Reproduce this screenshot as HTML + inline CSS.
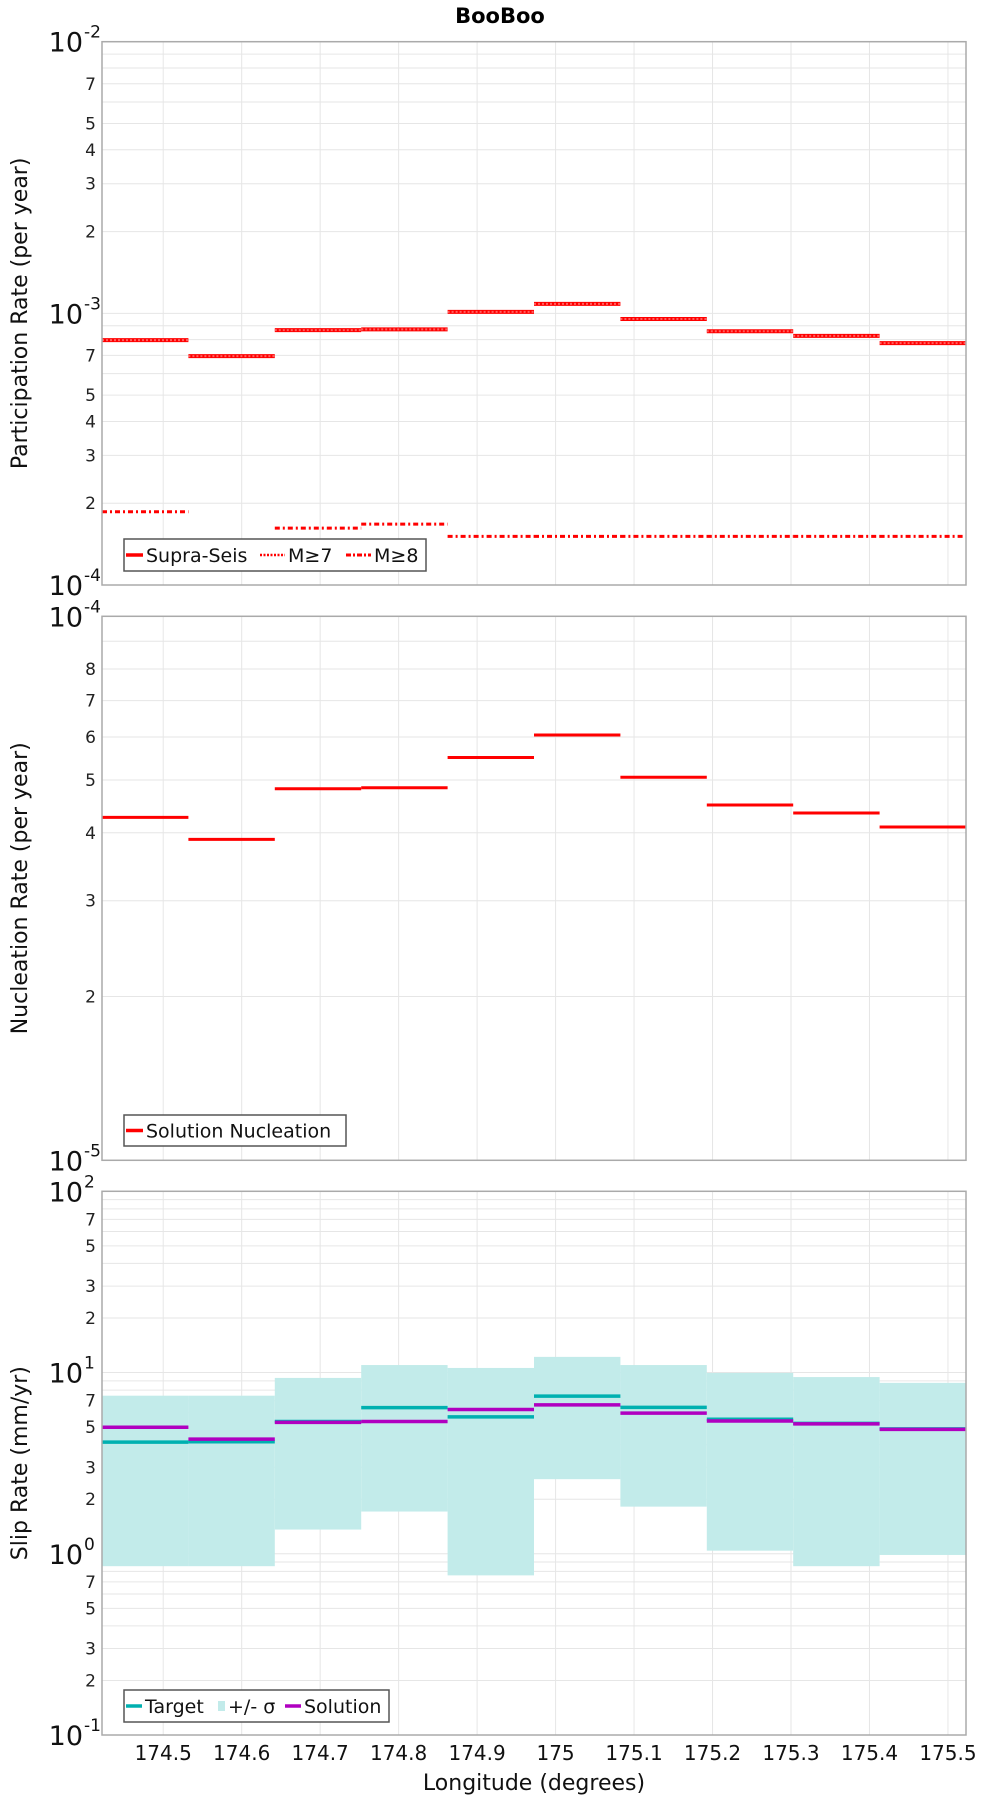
<!DOCTYPE html>
<html><head><meta charset="utf-8"><style>
html,body{margin:0;padding:0;background:#fff;}
svg{display:block;font-family:"DejaVu Sans","Liberation Sans",sans-serif;}
</style></head><body>
<svg id="chart" width="1000" height="1800" viewBox="0 0 1000 1800" xmlns="http://www.w3.org/2000/svg">
<text x="500" y="23" text-anchor="middle" font-size="21" font-weight="bold">BooBoo</text>
<g id="layer"></g>
</svg>
<script>
// ---- data ----
const binEdges = [174.422,174.5321,174.6422,174.7523,174.8624,174.9725,175.0826,175.1927,175.3028,175.4129,175.523];
const xTicks = [174.5,174.6,174.7,174.8,174.9,175,175.1,175.2,175.3,175.4,175.5];
const xTickLabels = ["174.5","174.6","174.7","174.8","174.9","175","175.1","175.2","175.3","175.4","175.5"];
const supraSeis = [7.97e-4,6.96e-4,8.67e-4,8.73e-4,1.013e-3,1.084e-3,9.53e-4,8.59e-4,8.26e-4,7.77e-4];
const m7 = [7.97e-4,6.96e-4,8.67e-4,8.73e-4,1.013e-3,1.084e-3,9.53e-4,8.59e-4,8.26e-4,7.77e-4];
const m8 = [1.86e-4,1.374e-4,1.62e-4,1.675e-4,1.51e-4,1.51e-4,1.51e-4,1.51e-4,1.51e-4,1.51e-4];
const nucleation = [4.27e-5,3.89e-5,4.82e-5,4.84e-5,5.5e-5,6.05e-5,5.06e-5,4.5e-5,4.35e-5,4.1e-5];
const slipTarget = [4.13,4.15,5.37,6.4,5.69,7.41,6.42,5.52,5.24,4.89];
const slipSolution = [4.99,4.29,5.31,5.37,6.25,6.63,5.97,5.40,5.21,4.86];
const slipUpper = [7.45,7.45,9.34,11.0,10.6,12.2,11.0,9.95,9.44,8.77];
const slipLower = [0.854,0.854,1.36,1.71,0.76,2.58,1.82,1.04,0.854,0.985];

const NS="http://www.w3.org/2000/svg";
const layer=document.getElementById('layer');
const X0=102,X1=966,LON0=174.422,LON1=175.523;
function xs(v){return X0+(v-LON0)/(LON1-LON0)*(X1-X0);}
function mk(tag,attrs,parent){const e=document.createElementNS(NS,tag);for(const k in attrs)e.setAttribute(k,attrs[k]);(parent||layer).appendChild(e);return e;}

const panels=[
 {top:41.7,bot:585,lo:-4,hi:-2,minorLabels:[2,3,4,5,7],title:"Participation Rate (per year)",name:"participation"},
 {top:616.3,bot:1160.3,lo:-5,hi:-4,minorLabels:[2,3,4,5,6,7,8],title:"Nucleation Rate (per year)",name:"nucleation"},
 {top:1191.3,bot:1735,lo:-1,hi:2,minorLabels:[2,3,5,7],title:"Slip Rate (mm/yr)",name:"slip"}
];
panels.forEach(p=>{p.ys=v=>p.bot-(Math.log10(v)-p.lo)/(p.hi-p.lo)*(p.bot-p.top);});

panels.forEach(p=>{
 const g=mk('g',{});
 
 
 for(let d=p.lo;d<p.hi;d++){for(let m=1;m<10;m++){const v=m*Math.pow(10,d);const y=p.ys(v);
  if(m>1||d>p.lo){const l=mk('line',{x1:X0,x2:X1,y1:y,y2:y,stroke:'#e6e6e6','stroke-width':1},g);
  }
  if(m>1&&p.minorLabels.includes(m)){const t=mk('text',{x:96,y:y+6,'text-anchor':'end','font-size':17,fill:'#222'},g);t.textContent=m;
  }
 }}
 xTicks.forEach(v=>{const l=mk('line',{x1:xs(v),x2:xs(v),y1:p.top,y2:p.bot,stroke:'#e6e6e6','stroke-width':1},g);
  });
 for(let d=p.lo;d<=p.hi;d++){const y=p.ys(Math.pow(10,d));
  const t=mk('text',{x:83,y:y+10,'text-anchor':'end','font-size':27,fill:'#111'},g);t.textContent='10';
  
  const s=mk('text',{x:84,y:y-4,'text-anchor':'start','font-size':17,fill:'#111'},g);s.textContent=String(d);
  }
 const at=mk('text',{transform:`translate(27,${(p.top+p.bot)/2}) rotate(-90)`,'text-anchor':'middle','font-size':22,fill:'#111'},g);
 at.textContent=p.title;
});

function steps(p,arr,attrs,name){arr.forEach((v,i)=>{const y=p.ys(v);
 const l=mk('line',Object.assign({x1:xs(binEdges[i]),x2:xs(binEdges[i+1]),y1:y,y2:y},attrs));
 });}

const P1=panels[0],P2=panels[1],P3=panels[2];
steps(P1,supraSeis,{stroke:'#ff0000','stroke-width':4},'supra-seis-segment');
steps(P1,m7,{stroke:'#ff6060','stroke-width':2,'stroke-dasharray':'2 2'},'m7-segment');
steps(P1,m8,{stroke:'#ff0000','stroke-width':3,'stroke-dasharray':'5 3 2 3'},'m8-segment');
steps(P2,nucleation,{stroke:'#ff0000','stroke-width':3},'nucleation-segment');
slipUpper.forEach((u,i)=>{const y1=P3.ys(u),y2=P3.ys(slipLower[i]);
 const r=mk('rect',{x:xs(binEdges[i]),y:y1,width:xs(binEdges[i+1])-xs(binEdges[i]),height:y2-y1,fill:'#c2ebea'});
 });
steps(P3,slipTarget,{stroke:'#00b0b0','stroke-width':3.5},'target-segment');
steps(P3,slipSolution,{stroke:'#b000c0','stroke-width':3.5},'solution-segment');

panels.forEach(p=>{const r=mk('rect',{x:X0,y:p.top,width:X1-X0,height:p.bot-p.top,fill:'none',stroke:'#aaa','stroke-width':1.5});
 });

xTicks.forEach((v,i)=>{const t=mk('text',{x:xs(v),y:1760,'text-anchor':'middle','font-size':20,fill:'#111'});t.textContent=xTickLabels[i];
 });
const xt=mk('text',{x:534,y:1790,'text-anchor':'middle','font-size':22,fill:'#111'});xt.textContent='Longitude (degrees)';


function legend(x,y,w,h,items,name){const g=mk('g',{});
 mk('rect',{x:x,y:y,width:w,height:h,fill:'#fff',stroke:'#555','stroke-width':1.5},g);
 items.forEach(it=>{const cy=y+h/2;
  if(it.box){mk('rect',{x:it.x,y:cy-5,width:it.len,height:10,fill:it.color},g);}
  else{mk('line',Object.assign({x1:it.x,x2:it.x+it.len,y1:cy,y2:cy,stroke:it.color,'stroke-width':it.w||3.5},it.extra||{}),g);}
  const t=mk('text',{x:it.x+it.len+3,y:cy+7,'font-size':19,fill:'#111'},g);t.textContent=it.label;
  });}
legend(124,539,302,32,[
 {x:126,len:17,color:'#f00',label:'Supra-Seis'},
 {x:260,len:25,color:'#f00',w:2.5,extra:{'stroke-dasharray':'2 1.5'},label:'M≥7'},
 {x:346,len:25,color:'#f00',w:3,extra:{'stroke-dasharray':'5 2 2 2'},label:'M≥8'}],'participation-legend');
legend(124,1115,222,31,[{x:126,len:17,color:'#f00',label:'Solution Nucleation'}],'nucleation-legend');
legend(124,1690,265,32,[
 {x:126,len:16,color:'#00b0b0',label:'Target'},
 {x:218,len:7,color:'#c2ebea',box:true,label:'+/- σ'},
 {x:285,len:16,color:'#b000c0',label:'Solution'}],'slip-legend');
</script>
</body></html>
